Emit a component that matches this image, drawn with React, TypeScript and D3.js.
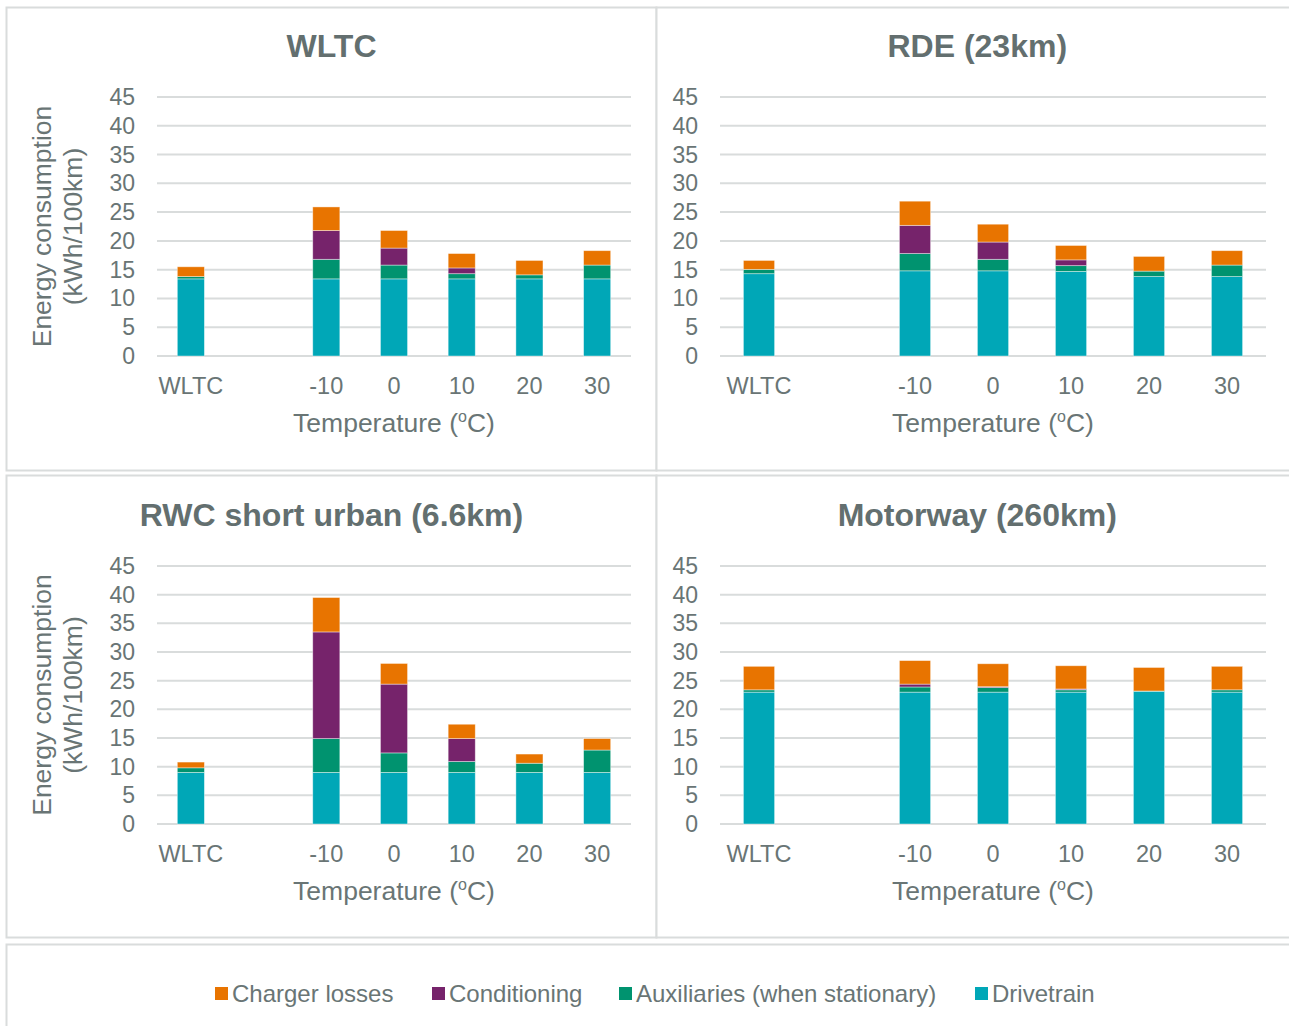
import React from "react";
import * as d3 from "d3";

// slots on the x axis (the empty one is the gap after WLTC)
const slots = ["WLTC", "", "-10", "0", "10", "20", "30"];
const categories = ["WLTC", "-10", "0", "10", "20", "30"];

const seriesKeys = ["drivetrain", "auxiliaries", "conditioning", "charger"];
const seriesNames = ["Drivetrain", "Auxiliaries (when stationary)", "Conditioning", "Charger losses"];
const seriesColors = ["#00A7B7", "#00936F", "#76236B", "#E87400"];

// WLTC panel
const wltcDrivetrain = [13.4, 13.4, 13.4, 13.4, 13.4, 13.4];
const wltcAuxiliaries = [0.4, 3.4, 2.4, 0.9, 0.7, 2.4];
const wltcConditioning = [0, 5.0, 2.95, 1.0, 0, 0];
const wltcCharger = [1.7, 4.1, 3.05, 2.5, 2.5, 2.5];

// RDE panel
const rdeDrivetrain = [14.3, 14.8, 14.8, 14.7, 13.8, 13.8];
const rdeAuxiliaries = [0.75, 3.0, 2.0, 1.0, 0.95, 2.0];
const rdeConditioning = [0, 4.9, 3.0, 1.0, 0, 0];
const rdeCharger = [1.55, 4.2, 3.1, 2.5, 2.55, 2.5];

// RWC short urban panel
const rwcDrivetrain = [9.0, 9.0, 9.0, 9.0, 9.0, 9.0];
const rwcAuxiliaries = [0.8, 5.9, 3.4, 1.9, 1.6, 3.9];
const rwcConditioning = [0, 18.6, 12.0, 4.0, 0, 0];
const rwcCharger = [1.0, 6.0, 3.6, 2.5, 1.6, 2.0];

// Motorway panel
const mwDrivetrain = [23.0, 23.0, 23.0, 23.0, 23.1, 23.0];
const mwAuxiliaries = [0.4, 0.9, 0.8, 0.4, 0.1, 0.4];
const mwConditioning = [0, 0.5, 0.15, 0.15, 0, 0];
const mwCharger = [4.1, 4.1, 4.0, 4.05, 4.1, 4.1];

const yMax = 45;

const textColor = "#697575";
const gridColor = "#D9DCDC";
const font = "'Liberation Sans', Arial, sans-serif";

type PanelDef = {
  title: string;
  values: number[][];
  box: [number, number, number, number];
  plotX: [number, number];
  plotY: [number, number];
  yTitle: boolean;
};

const panels: PanelDef[] = [
  {
    title: "WLTC",
    values: [wltcDrivetrain, wltcAuxiliaries, wltcConditioning, wltcCharger],
    box: [6.5, 7.5, 656.5, 470.5],
    plotX: [157, 631],
    plotY: [356, 97],
    yTitle: true,
  },
  {
    title: "RDE (23km)",
    values: [rdeDrivetrain, rdeAuxiliaries, rdeConditioning, rdeCharger],
    box: [656.5, 7.5, 1298, 470.5],
    plotX: [720, 1266],
    plotY: [356, 97],
    yTitle: false,
  },
  {
    title: "RWC short urban (6.6km)",
    values: [rwcDrivetrain, rwcAuxiliaries, rwcConditioning, rwcCharger],
    box: [6.5, 475.5, 656.5, 937.5],
    plotX: [157, 631],
    plotY: [824, 566],
    yTitle: true,
  },
  {
    title: "Motorway (260km)",
    values: [mwDrivetrain, mwAuxiliaries, mwConditioning, mwCharger],
    box: [656.5, 475.5, 1298, 937.5],
    plotX: [720, 1266],
    plotY: [824, 566],
    yTitle: false,
  },
];

function Panel({ p }: { p: PanelDef }) {
  const [bx0, by0, bx1, by1] = p.box;
  const x = d3.scaleBand().domain(slots).range(p.plotX).paddingInner(0.6).paddingOuter(0.3);
  const y = d3.scaleLinear().domain([0, yMax]).range(p.plotY);
  const rows = categories.map((c, i) => {
    const r: any = { cat: c };
    seriesKeys.forEach((k, j) => (r[k] = p.values[j][i]));
    return r;
  });
  const stacked = d3.stack().keys(seriesKeys)(rows);
  const ticks = y.ticks(10);
  const yMid = (p.plotY[0] + p.plotY[1]) / 2;
  const xMid = (p.plotX[0] + p.plotX[1]) / 2;

  return (
    <g>
      <rect x={bx0} y={by0} width={bx1 - bx0} height={by1 - by0} fill="#fff" stroke={gridColor} strokeWidth={2} />
      <text x={(bx0 + bx1) / 2} y={p.plotY[1] - 40} textAnchor="middle" fontSize={32} fontWeight="bold" fill="#636f6f">
        {p.title}
      </text>
      {ticks.map((t) => (
        <g key={t}>
          <line x1={p.plotX[0]} x2={p.plotX[1]} y1={y(t)} y2={y(t)} stroke={gridColor} strokeWidth={2} />
          <text x={p.plotX[0] - 22} y={y(t)} dy="0.35em" textAnchor="end" fontSize={23} fill={textColor}>
            {t}
          </text>
        </g>
      ))}
      {stacked.map((s, si) => (
        <g key={s.key} fill={seriesColors[si]}>
          {s.map((d: any) => {
            const h = y(d[0]) - y(d[1]);
            if (h <= 0) return null;
            return (
              <rect
                key={d.data.cat}
                x={x(d.data.cat)}
                y={y(d[1])}
                width={x.bandwidth()}
                height={h}
                stroke="#ffffff"
                strokeOpacity={0.5}
                strokeWidth={0.8}
              />
            );
          })}
        </g>
      ))}
      {categories.map((c) => (
        <text key={c} x={(x(c) as number) + x.bandwidth() / 2} y={p.plotY[0] + 38} textAnchor="middle" fontSize={23.5} fill={textColor}>
          {c}
        </text>
      ))}
      <text x={xMid} y={p.plotY[0] + 76} textAnchor="middle" fontSize={26.5} fill={textColor}>
        Temperature (<tspan fontSize={16} dy={-10}>o</tspan>
        <tspan dy={10}>C)</tspan>
      </text>
      {p.yTitle && (
        <g transform={`translate(0,${yMid}) rotate(-90)`}>
          <text x={0} y={51} textAnchor="middle" fontSize={26.5} fill={textColor}>
            Energy consumption
          </text>
          <text x={0} y={82} textAnchor="middle" fontSize={26.5} fill={textColor}>
            (kWh/100km)
          </text>
        </g>
      )}
    </g>
  );
}

// legend layout: left edge of each swatch, in legend order
const legendOrder = [3, 2, 1, 0];
const legendX = [215, 432, 619, 975];

export default function App() {
  return (
    <svg
      width={1289}
      height={1026}
      style={{ position: "absolute", left: 0, top: 0, fontFamily: font, background: "#fff" }}
    >
      <rect x={0} y={0} width={1289} height={1026} fill="#fff" />
      {panels.map((p) => (
        <Panel key={p.title} p={p} />
      ))}
      <rect x={6.5} y={944.5} width={1292} height={100} fill="#fff" stroke={gridColor} strokeWidth={2} />
      {legendOrder.map((si, i) => (
        <g key={seriesKeys[si]} transform={`translate(${legendX[i]},994)`}>
          <rect x={0} y={-7} width={13} height={13} fill={seriesColors[si]} />
          <text x={17} y={0} dy="0.35em" fontSize={24} fill={textColor}>
            {seriesNames[si]}
          </text>
        </g>
      ))}
    </svg>
  );
}
